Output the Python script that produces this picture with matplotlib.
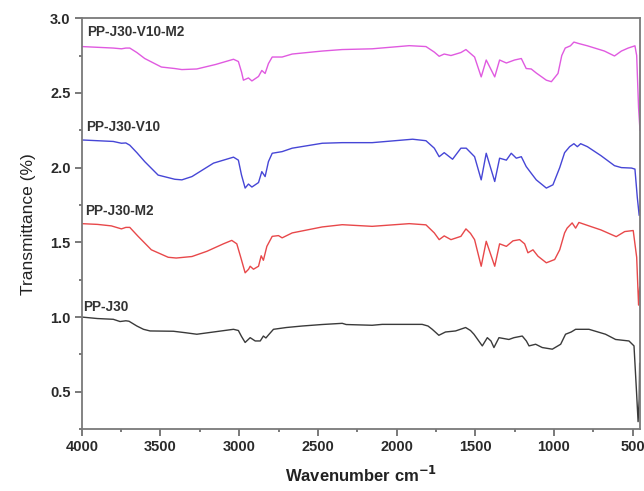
import matplotlib
matplotlib.use("Agg")
import matplotlib.pyplot as plt
from matplotlib.ticker import MultipleLocator

plt.rcParams['font.family'] = ['Liberation Sans', 'DejaVu Sans']

# ---- data (wavenumber cm-1, transmittance) ----
wn_j30 = [4000, 3900, 3800, 3757, 3720, 3700, 3650, 3608, 3566, 3418, 3340, 3269, 3163, 3036, 3005, 2985,
          2962, 2930, 2898, 2866, 2846, 2830, 2814, 2782, 2700, 2600, 2474, 2345, 2320, 2155, 2091, 1837,
          1800, 1773, 1731, 1689, 1625, 1561, 1530, 1508, 1455, 1423, 1400, 1381, 1349, 1286, 1254, 1201,
          1175, 1158, 1116, 1074, 1010, 957, 926, 890, 862, 777, 672, 608, 523, 491, 475, 465, 458, 455]
t_j30 = [1.00, 0.99, 0.985, 0.97, 0.975, 0.972, 0.94, 0.918, 0.907, 0.905, 0.895, 0.885, 0.90, 0.918, 0.91, 0.87,
         0.83, 0.862, 0.84, 0.84, 0.873, 0.86, 0.88, 0.918, 0.93, 0.94, 0.95, 0.958, 0.95, 0.945, 0.951, 0.951,
         0.94, 0.918, 0.878, 0.90, 0.907, 0.93, 0.91, 0.885, 0.807, 0.862, 0.84, 0.796, 0.862, 0.85, 0.862, 0.873,
         0.84, 0.807, 0.818, 0.796, 0.785, 0.818, 0.885, 0.90, 0.918, 0.918, 0.885, 0.85, 0.84, 0.807, 0.50, 0.30, 0.45, 0.69]

wn_m2 = [4000, 3900, 3812, 3748, 3720, 3695, 3642, 3558, 3451, 3400, 3300, 3205, 3100, 3047, 3015, 2990,
         2962, 2940, 2930, 2909, 2877, 2860, 2846, 2824, 2790, 2750, 2727, 2663, 2472, 2345, 2155, 1919,
         1813, 1760, 1729, 1697, 1654, 1591, 1559, 1530, 1504, 1462, 1430, 1376, 1345, 1302, 1260, 1218,
         1186, 1165, 1133, 1101, 1048, 995, 963, 932, 916, 884, 862, 841, 766, 701, 604, 550, 496, 474, 462, 455]
t_m2 = [1.625, 1.62, 1.61, 1.59, 1.60, 1.60, 1.54, 1.45, 1.40, 1.395, 1.405, 1.44, 1.49, 1.513, 1.49, 1.40,
        1.296, 1.32, 1.34, 1.32, 1.34, 1.41, 1.38, 1.473, 1.54, 1.545, 1.53, 1.563, 1.603, 1.618, 1.607, 1.625,
        1.617, 1.563, 1.518, 1.543, 1.518, 1.54, 1.59, 1.56, 1.518, 1.34, 1.507, 1.34, 1.49, 1.473, 1.51, 1.518,
        1.49, 1.43, 1.45, 1.407, 1.363, 1.385, 1.45, 1.563, 1.595, 1.63, 1.595, 1.633, 1.606, 1.583, 1.538, 1.572, 1.579, 1.40, 1.08, 1.20]

wn_v10 = [4000, 3900, 3800, 3748, 3720, 3695, 3650, 3600, 3515, 3409, 3364, 3300, 3163, 3036, 3005, 2985,
          2962, 2941, 2919, 2877, 2856, 2835, 2814, 2790, 2727, 2663, 2472, 2345, 2155, 1898, 1813, 1760,
          1729, 1697, 1644, 1591, 1557, 1504, 1462, 1430, 1376, 1345, 1302, 1271, 1239, 1207, 1176, 1144,
          1112, 1048, 1006, 963, 932, 900, 873, 851, 830, 787, 701, 615, 571, 507, 485, 470, 458, 452]
t_v10 = [2.185, 2.18, 2.175, 2.163, 2.165, 2.15, 2.10, 2.04, 1.95, 1.922, 1.918, 1.94, 2.03, 2.07, 2.05, 1.95,
         1.863, 1.89, 1.87, 1.90, 1.973, 1.94, 2.04, 2.096, 2.107, 2.13, 2.163, 2.167, 2.167, 2.19, 2.18, 2.13,
         2.073, 2.10, 2.056, 2.13, 2.13, 2.073, 1.918, 2.096, 1.907, 2.063, 2.05, 2.096, 2.063, 2.073, 2.007, 1.962,
         1.918, 1.863, 1.885, 2.00, 2.10, 2.14, 2.16, 2.14, 2.16, 2.14, 2.08, 2.013, 2.00, 1.997, 1.99, 1.80, 1.68, 1.72]

wn_v10m2 = [4000, 3900, 3800, 3748, 3720, 3695, 3650, 3600, 3494, 3409, 3364, 3269, 3150, 3036, 3005, 2985,
            2973, 2941, 2919, 2877, 2856, 2835, 2814, 2790, 2727, 2663, 2472, 2345, 2155, 1919, 1813, 1760,
            1729, 1697, 1654, 1591, 1559, 1504, 1462, 1430, 1376, 1345, 1302, 1250, 1207, 1176, 1144, 1112,
            1048, 1016, 974, 950, 928, 895, 873, 841, 787, 679, 615, 571, 528, 485, 474, 462, 453]
t_v10m2 = [2.81, 2.805, 2.80, 2.795, 2.80, 2.80, 2.77, 2.73, 2.673, 2.663, 2.656, 2.66, 2.69, 2.725, 2.71, 2.64,
           2.585, 2.60, 2.58, 2.61, 2.65, 2.63, 2.696, 2.74, 2.74, 2.76, 2.78, 2.79, 2.795, 2.816, 2.81, 2.773,
           2.745, 2.76, 2.75, 2.77, 2.79, 2.74, 2.607, 2.72, 2.607, 2.72, 2.70, 2.72, 2.73, 2.663, 2.66, 2.633,
           2.585, 2.575, 2.63, 2.75, 2.80, 2.815, 2.84, 2.83, 2.815, 2.78, 2.747, 2.78, 2.80, 2.815, 2.75, 2.40, 2.25]

labels = ["PP-J30", "PP-J30-M2", "PP-J30-V10", "PP-J30-V10-M2"]
label_pos = [(3992, 1.07), (3979, 1.71), (3973, 2.27), (3966, 2.905)]
colors = ["#3a3a3a", "#e8484a", "#4646d6", "#e05ae0"]

fig = plt.figure(figsize=(6.44, 4.91), dpi=100)
ax = fig.add_axes([0.127, 0.126, 0.867, 0.837])

series = [(wn_j30, t_j30), (wn_m2, t_m2), (wn_v10, t_v10), (wn_v10m2, t_v10m2)]
for (x, y), c in zip(series, colors):
    ax.plot(x, y, color=c, lw=1.0)

for lab, (x, y) in zip(labels, label_pos):
    ax.text(x, y, lab, fontsize=9.8, fontweight='bold', color='#333333', ha='left', va='center')

ax.set_xlim(4000, 452)
ax.set_ylim(0.25, 3.0)
ax.xaxis.set_major_locator(MultipleLocator(500))
ax.xaxis.set_minor_locator(MultipleLocator(250))
ax.yaxis.set_minor_locator(MultipleLocator(0.25))
ax.set_yticks([0.5, 1.0, 1.5, 2.0, 2.5, 3.0])
ax.set_yticklabels(["0.5", "1.0", "1.5", "2.0", "2.5", "3.0"])

for s in ax.spines.values():
    s.set_color('#7a7a7a')
    s.set_linewidth(1.3)
ax.tick_params(which='major', direction='out', length=5, width=1.1, color='#555555',
               labelsize=10.5, labelcolor='#2a2a2a', pad=3)
ax.tick_params(which='minor', direction='out', length=2.5, width=1.1, color='#555555')
ax.tick_params(top=False, right=False, which='both')
for t in ax.get_xticklabels() + ax.get_yticklabels():
    t.set_fontweight('bold')

ax.set_xlabel("Wavenumber cm$^{\\mathbf{-1}}$", fontsize=12, fontweight='bold', color='#222222', labelpad=8)
ax.set_ylabel("Transmittance (%)", fontsize=12.5, color='#222222', labelpad=10)

fig.savefig("out.png", dpi=100)
